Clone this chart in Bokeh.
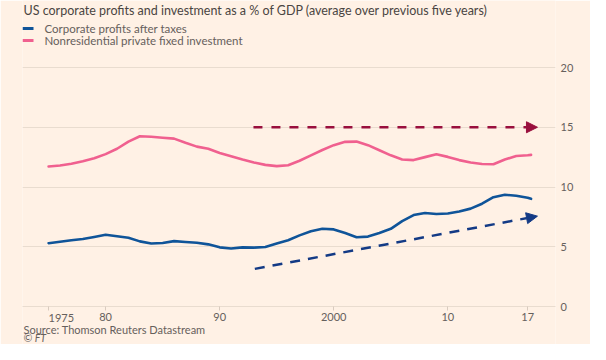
from bokeh.plotting import figure
from bokeh.models import (Range1d, FixedTicker, Label, BoxAnnotation, Arrow, NormalHead)
from bokeh.embed import file_html
from bokeh.resources import INLINE

# ---------------- data ----------------
years = [1975, 1976, 1977, 1978, 1979, 1980, 1981, 1982, 1983, 1984,
         1985, 1986, 1987, 1988, 1989, 1990, 1991, 1992, 1993, 1994,
         1995, 1996, 1997, 1998, 1999, 2000, 2001, 2002, 2003, 2004,
         2005, 2006, 2007, 2008, 2009, 2010, 2011, 2012, 2013, 2014,
         2015, 2016, 2017, 2017.3]

profits = [5.30, 5.42, 5.55, 5.65, 5.82, 6.00, 5.88, 5.75, 5.45, 5.27,
           5.32, 5.47, 5.40, 5.33, 5.20, 4.95, 4.85, 4.95, 4.93, 4.98,
           5.28, 5.55, 5.95, 6.30, 6.50, 6.45, 6.15, 5.80, 5.85, 6.15,
           6.50, 7.15, 7.65, 7.83, 7.74, 7.78, 7.95, 8.19, 8.60, 9.15,
           9.35, 9.27, 9.10, 9.01]

investment = [11.72, 11.80, 11.95, 12.15, 12.40, 12.75, 13.20, 13.80, 14.25, 14.20,
              14.12, 14.05, 13.70, 13.38, 13.20, 12.85, 12.58, 12.30, 12.05, 11.85,
              11.75, 11.82, 12.20, 12.65, 13.10, 13.50, 13.78, 13.80, 13.50, 13.08,
              12.65, 12.30, 12.25, 12.50, 12.74, 12.52, 12.25, 12.05, 11.92, 11.90,
              12.30, 12.60, 12.66, 12.69]

x_ticks = [1975, 1980, 1990, 2000, 2010, 2017]
x_tick_labels = ["1975", "80", "90", "2000", "10", "17"]
y_ticks = [0, 5, 10, 15, 20]

# trend arrows (annotations): start/end points
inv_arrow_x = [1992.96, 2017.86]
inv_arrow_y = [15.0, 15.0]
prof_arrow_x = [1993.08, 2017.86]
prof_arrow_y = [3.15, 7.56]

series_names = ["Corporate profits after taxes", "Nonresidential private fixed investment"]
title_text = "US corporate profits and investment as a % of GDP (average over previous five years)"
source_text = "Source: Thomson Reuters Datastream"
credit_text = "\u00a9 FT"

# ---------------- style ----------------
BG = "#fff1e5"
BLUE = "#0f5499"
PINK = "#f0608f"
CLARET = "#990f3d"
NAVY = "#133a85"
GRID = "#e9dccf"
TXT = "#66605c"
TITLE = "#4a4542"
FONT = "Lato"

W, H = 590, 344
FL, FR = 22, 555          # frame left/right in pixels
Y0, Y20 = 306, 67         # pixel rows of y=0 and y=20
ppu = (Y0 - Y20) / 20.0
# x scale: 1975 -> 48.1 px, 11.406 px per year
def px_to_year(px):
    return 1975 + (px - 48.1) / 11.406

p = figure(width=W, height=H, output_backend="svg", toolbar_location=None,
           x_range=Range1d(px_to_year(FL), px_to_year(FR)),
           y_range=Range1d(-(H - Y0) / ppu, Y0 / ppu),
           y_axis_location="right",
           min_border_left=FL, min_border_right=W - FR, min_border_top=0, min_border_bottom=0)
p.background_fill_color = BG
p.border_fill_color = BG
p.outline_line_color = None

# x axis drawn at y = 0
xa = p.xaxis[0]
xa.fixed_location = 0
xa.ticker = FixedTicker(ticks=x_ticks)
xa.major_label_overrides = {t: (l if t != 1975 else "") for t, l in zip(x_ticks, x_tick_labels)}
xa.axis_line_color = GRID
xa.major_tick_line_color = "#d9cbbf"
xa.major_tick_out = 4
xa.major_tick_in = 0
xa.minor_tick_line_color = None
xa.major_label_standoff = 2
xa.major_label_text_font = FONT
xa.major_label_text_font_size = "11px"
xa.major_label_text_color = TXT

# y axis (right)
ya = p.yaxis[0]
ya.ticker = FixedTicker(ticks=y_ticks)
ya.axis_line_color = None
ya.major_tick_line_color = None
ya.minor_tick_line_color = None
ya.major_tick_out = 0
ya.major_tick_in = 0
ya.major_label_standoff = 5
ya.major_label_text_font = FONT
ya.major_label_text_font_size = "11px"
ya.major_label_text_color = TXT

p.xgrid.grid_line_color = None
p.ygrid.grid_line_color = GRID
p.ygrid.grid_line_width = 1

# data lines
p.line(years, investment, line_color=PINK, line_width=2.6, line_join="round", line_cap="round")
p.line(years, profits, line_color=BLUE, line_width=2.6, line_join="round", line_cap="round")

# trend arrows
p.add_layout(Arrow(end=NormalHead(size=11, fill_color=CLARET, line_color=CLARET, line_width=1),
                   x_start=inv_arrow_x[0], y_start=inv_arrow_y[0],
                   x_end=inv_arrow_x[1], y_end=inv_arrow_y[1],
                   line_color=CLARET, line_width=2.5, line_dash="9 9"))
p.add_layout(Arrow(end=NormalHead(size=11, fill_color=NAVY, line_color=NAVY, line_width=1),
                   x_start=prof_arrow_x[0], y_start=prof_arrow_y[0],
                   x_end=prof_arrow_x[1], y_end=prof_arrow_y[1],
                   line_color=NAVY, line_width=2.5, line_dash="10 8"))

# first tick label, left-aligned at its tick
p.add_layout(Label(x=x_ticks[0], y=H - 317, y_units="screen", text=x_tick_labels[0],
                   text_align="left", text_baseline="middle", text_font=FONT,
                   text_font_size="11px", text_color=TXT))

# texts positioned in pixels (frame spans the full height; origin bottom-left of frame)
def lab(px, py, text, size="11.5px", color=TXT, style="normal"):
    p.add_layout(Label(x=px - FL, y=H - py, x_units="screen", y_units="screen", text=text,
                       text_align="left", text_baseline="middle", text_font=FONT,
                       text_font_size=size, text_color=color, text_font_style=style))

lab(23, 10, title_text, size="12.5px", color=TITLE)
lab(44, 28, series_names[0])
lab(44, 40, series_names[1])
lab(23, 328.5, source_text, size="11px")
lab(23, 337.5, credit_text, size="10.5px", style="italic")

for cy, col in [(28, BLUE), (40, PINK)]:
    p.add_layout(BoxAnnotation(left=22 - FL, right=33 - FL, top=H - cy + 1.5, bottom=H - cy - 1.5,
                               left_units="screen", right_units="screen",
                               top_units="screen", bottom_units="screen",
                               fill_color=col, fill_alpha=1, line_color=None))

open("out.html", "w").write(file_html(p, INLINE))
